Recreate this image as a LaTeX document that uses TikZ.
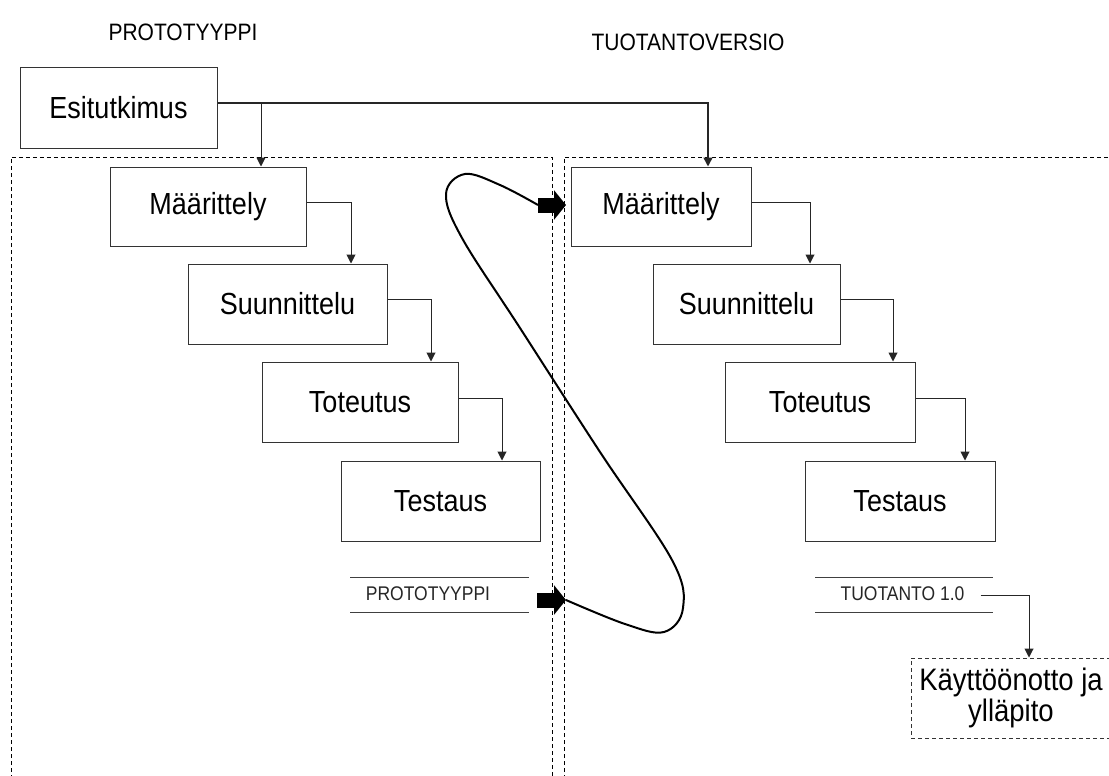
\documentclass[tikz,border=0pt]{standalone}
\usepackage{fontspec}
\setmainfont{Liberation Sans}
\usetikzlibrary{arrows.meta}
\newcommand{\tallt}[1]{\scalebox{1}[1.13]{#1}}
\begin{document}
\begin{tikzpicture}[x=1pt,y=-1pt,
  box/.style={draw=black!80, line width=1pt, rectangle, inner sep=0pt, font=\fontsize{27}{30}\selectfont},
  conn/.style={draw=black!85, line width=1pt, -{Triangle[length=9pt,width=9pt]}},
  dashbox/.style={dash pattern=on 4pt off 3pt, line width=1pt},
  title/.style={font=\fontsize{21}{24}\selectfont, inner sep=0pt},
  small/.style={font=\fontsize{17.5}{20}\selectfont, inner sep=0pt, text=black!85},
  blockarrow/.style={line width=15pt, -{Triangle[length=12pt,width=29pt]}},
  loopline/.style={line width=2pt}
]
\useasboundingbox (0,0) rectangle (1109,776);

% titles
\node[title] (t1) at (183,32) {\tallt{PROTOTYYPPI}};
\node[title] (t2) at (688,42) {\tallt{TUOTANTOVERSIO}};

% dashed regions
\draw[dashbox] (11,800) |- (552,157) -- (552,800);
\draw[dashbox] (564,800) |- (1130,157);

% boxes
\node[box, minimum width=197, minimum height=80] (esi) at (118.5,108) {\tallt{Esitutkimus}};
\node[box, minimum width=196, minimum height=79] (lm) at (208,206.5) {\tallt{Määrittely}};
\node[box, minimum width=199, minimum height=80] (ls) at (287.5,304) {\tallt{Suunnittelu}};
\node[box, minimum width=196, minimum height=80] (lt) at (360,402) {\tallt{Toteutus}};
\node[box, minimum width=199, minimum height=80] (lte) at (440.5,501) {\tallt{Testaus}};

\node[box, minimum width=180, minimum height=79] (rm) at (661,206.5) {\tallt{Määrittely}};
\node[box, minimum width=187, minimum height=80] (rs) at (746.5,304) {\tallt{Suunnittelu}};
\node[box, minimum width=190, minimum height=80] (rt) at (820,402) {\tallt{Toteutus}};
\node[box, minimum width=190, minimum height=80] (rte) at (900,501) {\tallt{Testaus}};

\node[box, dashbox, minimum width=200, minimum height=80, align=center,
      font=\fontsize{27.5}{31}\selectfont] (kay) at (1011,698) {\tallt{Käyttöönotto ja}\\\tallt{ylläpito}};

% connectors
\coordinate (b1) at (261,103);
\draw[conn, line width=1.6pt] ([yshift=5pt]esi.east) -| ([xshift=47pt]rm.north);
\draw[conn] (b1) -- ([xshift=53pt]lm.north);
\draw[conn] ([yshift=4.5pt]lm.east) -| ([xshift=63.5pt]ls.north);
\draw[conn] ([yshift=5pt]ls.east) -| ([xshift=71pt]lt.north);
\draw[conn] ([yshift=4pt]lt.east) -| ([xshift=61.5pt]lte.north);
\draw[conn] ([yshift=4.5pt]rm.east) -| ([xshift=63.5pt]rs.north);
\draw[conn] ([yshift=5pt]rs.east) -| ([xshift=73pt]rt.north);
\draw[conn] ([yshift=4pt]rt.east) -| ([xshift=65pt]rte.north);

% milestone labels
\node[small] (proto) at (428,594) {\tallt{PROTOTYYPPI}};
\draw[black!75, line width=1pt] (350,577) -- (529,577) (350,612) -- (529,612);
\node[small] (tuo) at (902.5,594) {\tallt{TUOTANTO 1.0}};
\draw[black!75, line width=1pt] (815,577) -- (993,577) (815,612) -- (993,612);
\draw[conn] ([xshift=16pt,yshift=-1pt]tuo.east) -| ([xshift=18pt]kay.north);

% block arrows and loop
\coordinate (a1t) at (538,205);
\coordinate (a1h) at (566,205);
\coordinate (a2t) at (537,600);
\coordinate (a2h) at (566,600);
\draw[blockarrow] (a1t) -- (a1h);
\draw[blockarrow] (a2t) -- (a2h);
\draw[loopline] plot[smooth, tension=0.6] coordinates {(a2h) (625,624) (664,632) (683,608) (672,560) (600,452) (520,328) (462,238) (446,194) (465,174) (500,185) (a1t)};
\end{tikzpicture}
\end{document}
